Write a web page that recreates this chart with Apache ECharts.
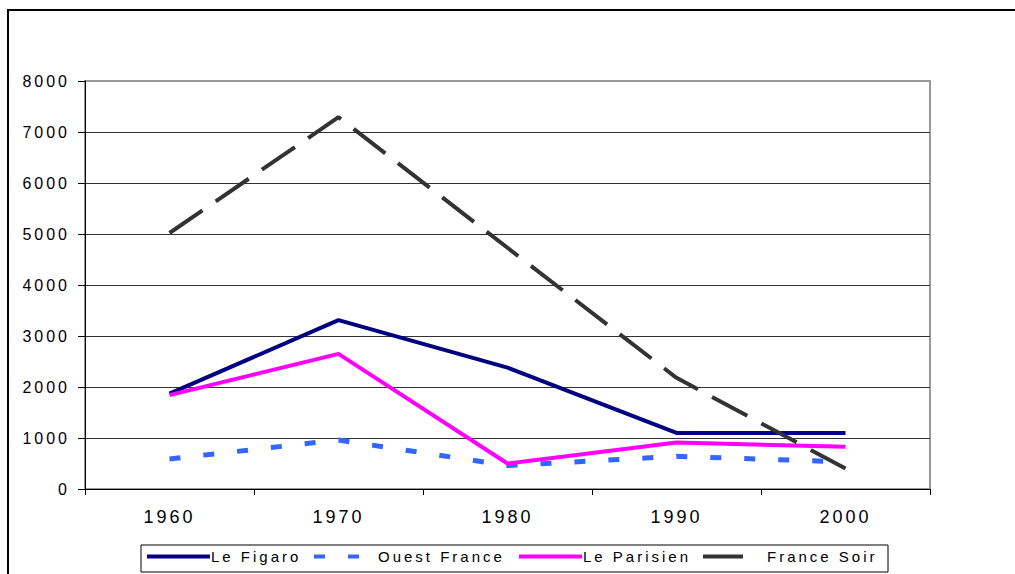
<!DOCTYPE html>
<html>
<head>
<meta charset="utf-8">
<script src="https://cdn.jsdelivr.net/npm/echarts@6/dist/echarts.min.js"></script>
<style>
  html, body { margin: 0; padding: 0; background: #fff; }
  #chart { width: 1015px; height: 574px; }
  /* the original labels are spaced out */
  #chart text { letter-spacing: 3px; }
</style>
</head>
<body>
<div id="chart"></div>
<script>
// data
var years = ['1960', '1970', '1980', '1990', '2000']
var leFigaro = [1870, 3310, 2380, 1100, 1100]
var ouestFrance = [590, 960, 460, 640, 530]
var leParisien = [1840, 2650, 500, 910, 830]
var franceSoir = [5020, 7290, 4730, 2180, 400]
var seriesNames = ['Le Figaro', 'Ouest France', 'Le Parisien', 'France Soir']

var charts = echarts.init(document.getElementById('chart'), null, { renderer: 'svg' })

var font = 'Liberation Sans, Arial, sans-serif'

// one legend per entry so each sits where it does in the original
function legendAt (name, left, width, textLeft, lineType) {
  return {
    data: [name],
    left: left,
    top: 549,
    padding: 0,
    itemWidth: width,
    itemHeight: 14,
    itemStyle: { opacity: 0 },
    lineStyle: { width: 4, type: lineType || 'inherit' },
    textStyle: {
      color: '#000',
      fontFamily: font,
      fontSize: 15,
      padding: [0, 0, 0, textLeft]
    }
  }
}

var options = {
  animation: false,
  backgroundColor: '#fff',
  graphic: [{
    // outer chart frame
    type: 'rect',
    shape: { x: 8, y: 10, width: 1100, height: 700 },
    style: { fill: 'none', stroke: '#000', lineWidth: 2 },
    silent: true
  }, {
    // legend box
    type: 'rect',
    shape: { x: 141, y: 545, width: 747, height: 27 },
    style: { fill: 'none', stroke: '#000', lineWidth: 1 },
    silent: true
  }],
  grid: {
    left: 85,
    right: 85,
    top: 81,
    bottom: 85,
    show: true,
    borderColor: '#999',
    borderWidth: 2,
    backgroundColor: 'transparent'
  },
  legend: [
    legendAt('Le Figaro', 145, 63, -4),
    legendAt('Ouest France', 312, 46, 13),
    legendAt('Le Parisien', 517, 63, -4),
    legendAt('France Soir', 701, 40, 19, 'solid')
  ],
  xAxis: {
    type: 'category',
    data: years,
    boundaryGap: true,
    axisLine: { lineStyle: { color: '#000', width: 1 } },
    axisTick: { show: true, length: 6, lineStyle: { color: '#000' } },
    axisLabel: {
      color: '#000',
      fontFamily: font,
      fontSize: 18,
      margin: 19
    },
    splitLine: { show: false }
  },
  yAxis: {
    type: 'value',
    min: 0,
    max: 8000,
    interval: 1000,
    axisLine: { show: true, lineStyle: { color: '#000', width: 1 } },
    axisTick: { show: true, length: 7, lineStyle: { color: '#000' } },
    axisLabel: {
      color: '#000',
      fontFamily: font,
      fontSize: 16,
      margin: 15,
      formatter: function (v) { return String(v) }
    },
    splitLine: {
      show: true,
      lineStyle: {
        color: ['#333', '#333', '#333', '#333', '#333', '#333', '#333', '#333', '#999'],
        width: 1
      }
    }
  },
  series: [{
    name: seriesNames[0],
    type: 'line',
    data: leFigaro,
    symbol: 'none',
    color: '#000080',
    lineStyle: { color: '#000080', width: 4 }
  }, {
    name: seriesNames[1],
    type: 'line',
    data: ouestFrance,
    symbol: 'none',
    color: '#3366ff',
    lineStyle: { color: '#3366ff', width: 5, type: [11, 23], cap: 'butt' }
  }, {
    name: seriesNames[2],
    type: 'line',
    data: leParisien,
    symbol: 'none',
    color: '#ff00ff',
    lineStyle: { color: '#ff00ff', width: 4 }
  }, {
    name: seriesNames[3],
    type: 'line',
    data: franceSoir,
    symbol: 'none',
    color: '#333333',
    lineStyle: { color: '#333333', width: 4, type: [40, 16], cap: 'butt' }
  }]
}

charts.clear()
charts.setOption(options)
window.addEventListener('resize', function () {
  charts.resize()
})
</script>
</body>
</html>
